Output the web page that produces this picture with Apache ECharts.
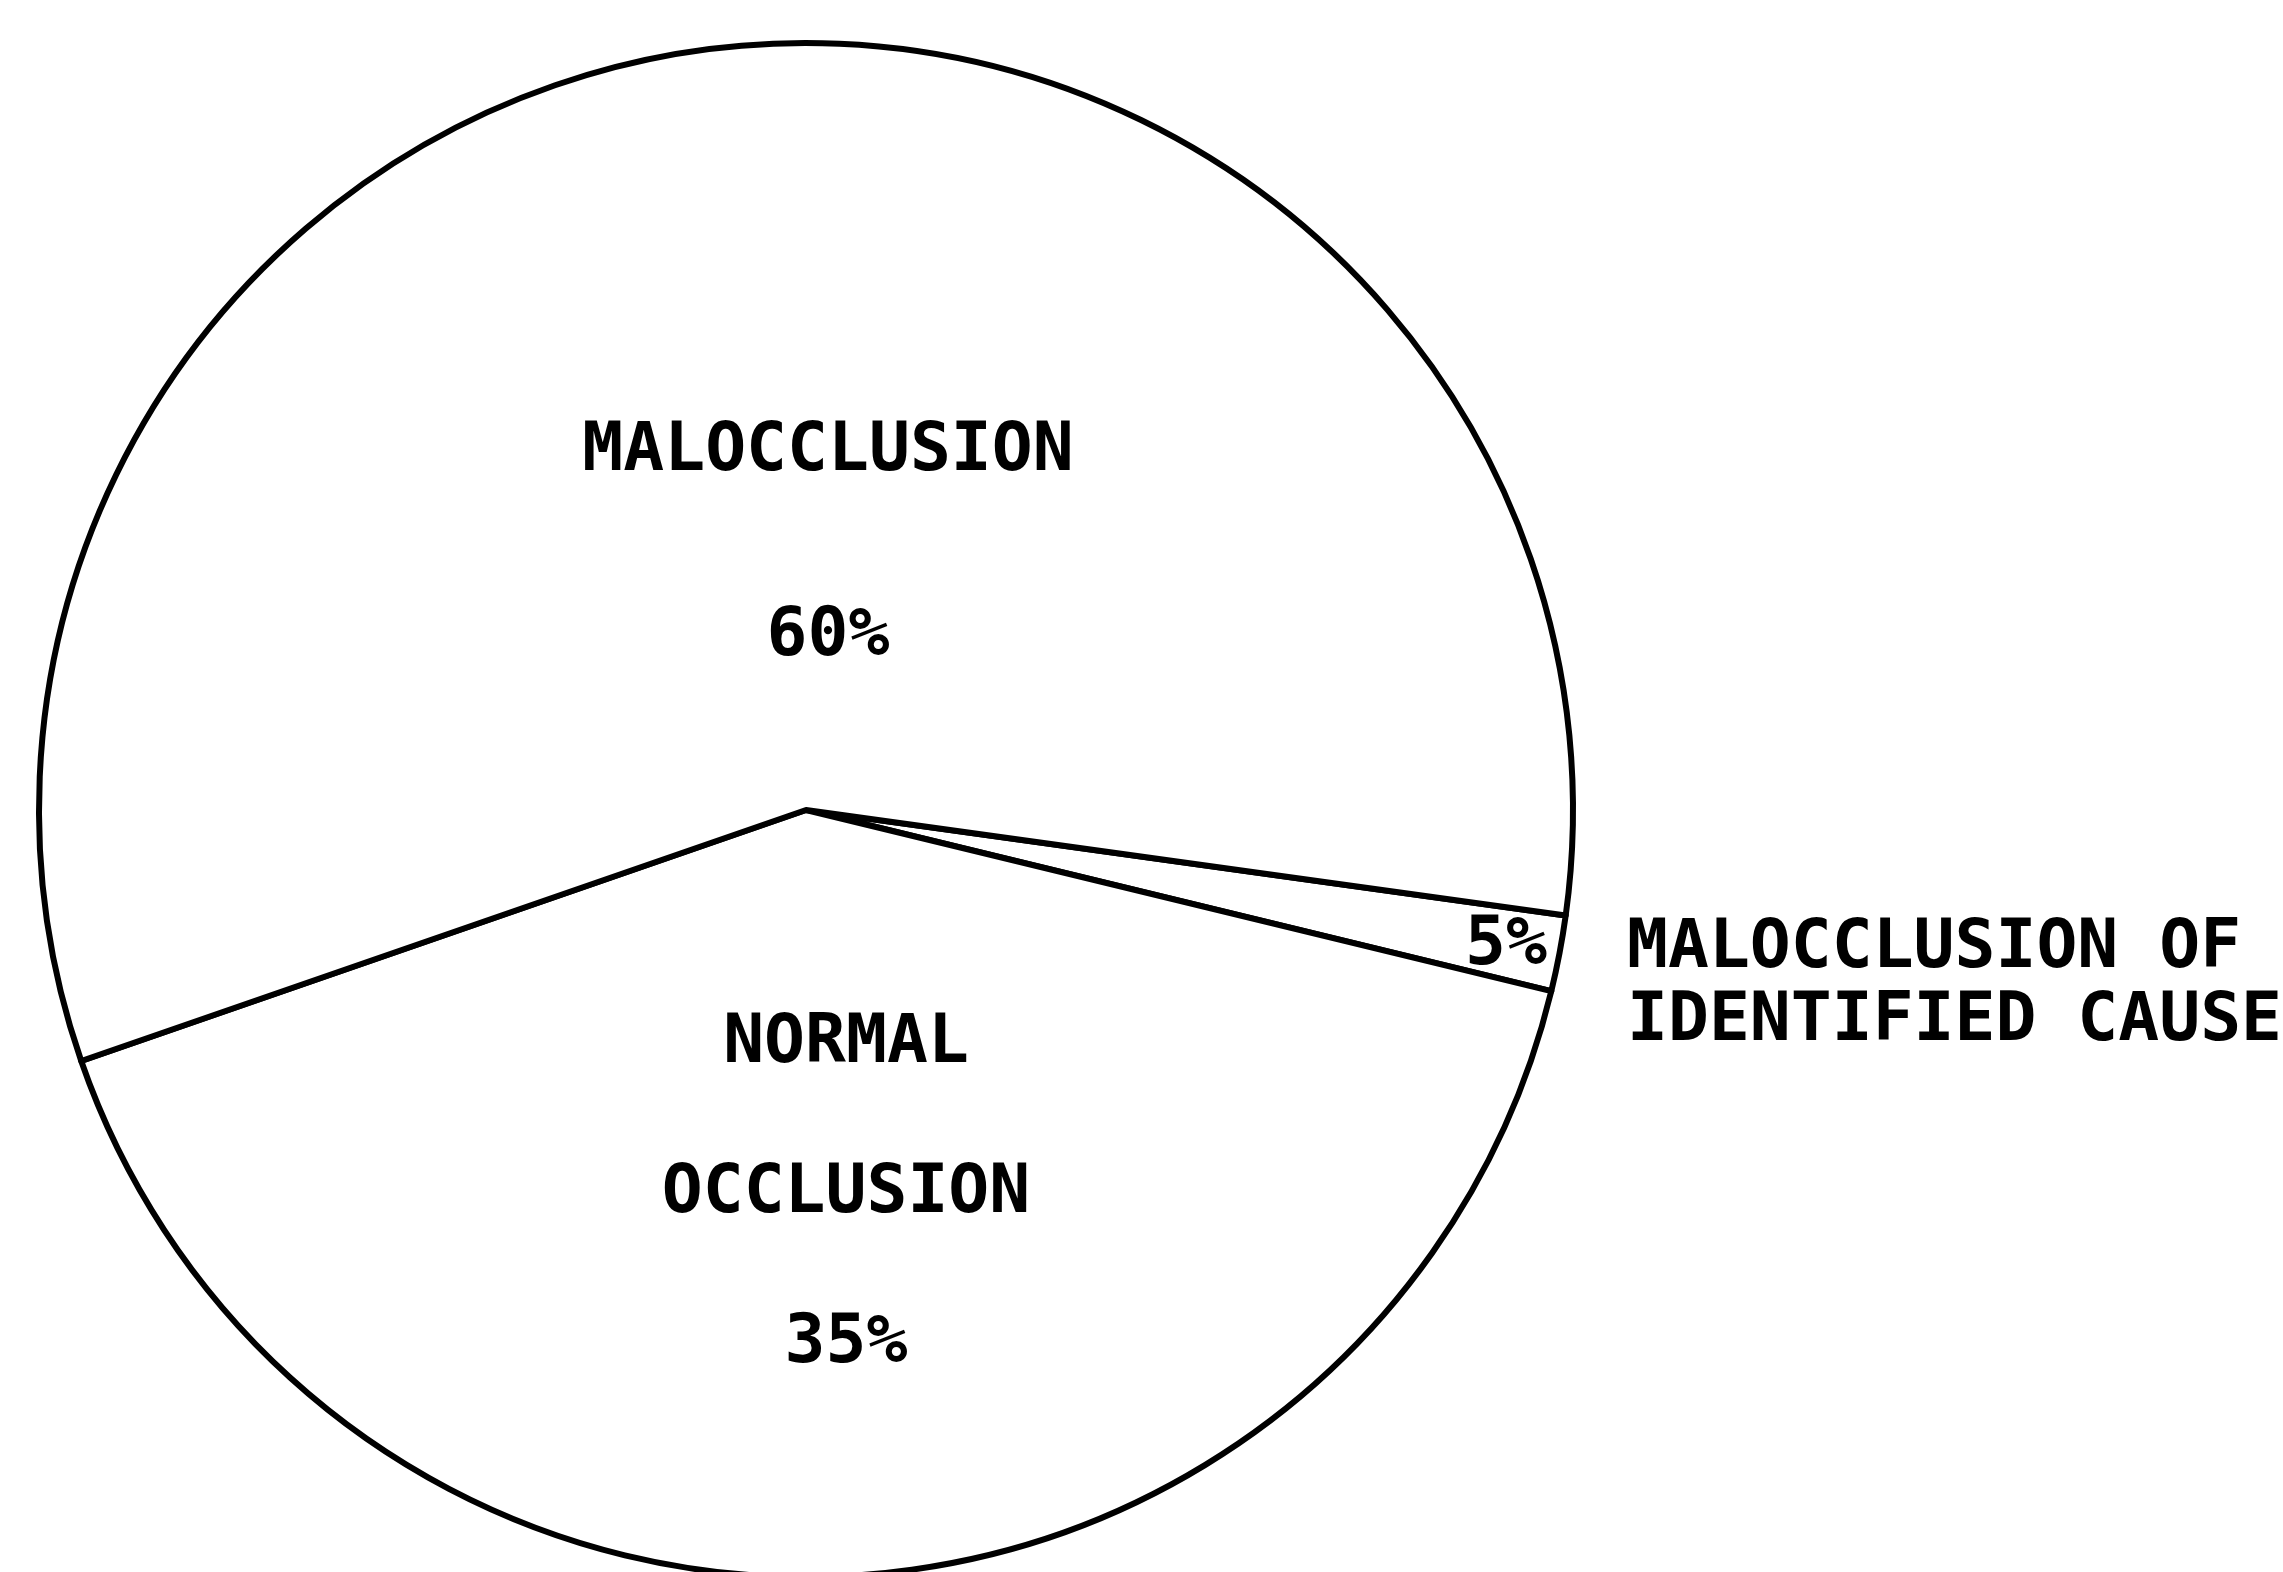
<!DOCTYPE html>
<html>
<head>
<meta charset="utf-8">
<title>Occlusion pie</title>
<script src="https://cdn.jsdelivr.net/npm/echarts@6/dist/echarts.min.js"></script>
<style>
  html, body { margin: 0; padding: 0; background: #fff; }
  #chart { width: 2283px; height: 1572px; }
</style>
</head>
<body>
<div id="chart"></div>
<script>
// slices in drawing order, clockwise from the small wedge
var categories = ['MALOCCLUSION OF IDENTIFIED CAUSE', 'NORMAL OCCLUSION', 'MALOCCLUSION'];
// lines of each name as printed
var nameLines = [['MALOCCLUSION OF', 'IDENTIFIED CAUSE'], ['NORMAL', 'OCCLUSION'], ['MALOCCLUSION']];
// percentages printed on the chart
var printedPct = ['5%', '35%', '60%'];
// slice sizes as actually drawn (angle / 3.6)
var drawnShare = [1.6, 40.9, 57.5];

// where the text blocks sit (centre of block)
var innerPos = [[1506, 946], [846, 1194], [828, 545]];
var innerLineHeight = [68, 75, 92.5];
var sidePos = [1627, 986];

var font = { fontFamily: 'DejaVu Sans Mono', fontWeight: 'bold', fontSize: 68, color: '#000' };

var myChart = echarts.init(document.getElementById('chart'));

var mainData = drawnShare.map(function (v, i) {
    return { value: v, name: categories[i], label: { lineHeight: innerLineHeight[i] } };
});
var sideData = drawnShare.map(function (v, i) {
    return { value: v, name: categories[i] };
});

var option = {
    backgroundColor: '#fff',
    animation: false,
    series: [{
        type: 'pie',
        center: [806, 810],
        radius: 767,
        startAngle: 352.1,
        clockwise: true,
        avoidLabelOverlap: false,
        silent: true,
        itemStyle: { color: '#fff', borderColor: '#000', borderWidth: 6 },
        label: Object.assign({
            show: true,
            position: 'inside',
            align: 'center',
            formatter: function (p) {
                if (p.dataIndex === 0) return printedPct[0];
                return nameLines[p.dataIndex].join('\n\n') + '\n\n' + printedPct[p.dataIndex];
            }
        }, font),
        labelLine: { show: false },
        labelLayout: function (p) {
            return { x: innerPos[p.dataIndex][0], y: innerPos[p.dataIndex][1], align: 'center', verticalAlign: 'middle' };
        },
        data: mainData
    }, {
        // invisible copy, only carries the side caption of the small wedge
        type: 'pie',
        center: [806, 810],
        radius: 767,
        startAngle: 352.1,
        clockwise: true,
        avoidLabelOverlap: false,
        silent: true,
        itemStyle: { color: 'rgba(0,0,0,0)', borderWidth: 0 },
        label: Object.assign({
            show: true,
            position: 'inside',
            align: 'left',
            lineHeight: 73,
            formatter: function (p) {
                return p.dataIndex === 0 ? nameLines[0].join('\n') : '';
            }
        }, font),
        labelLine: { show: false },
        labelLayout: function (p) {
            return { x: sidePos[0], y: sidePos[1], align: 'left', verticalAlign: 'middle' };
        },
        data: sideData
    }]
};

myChart.setOption(option);
</script>
</body>
</html>
